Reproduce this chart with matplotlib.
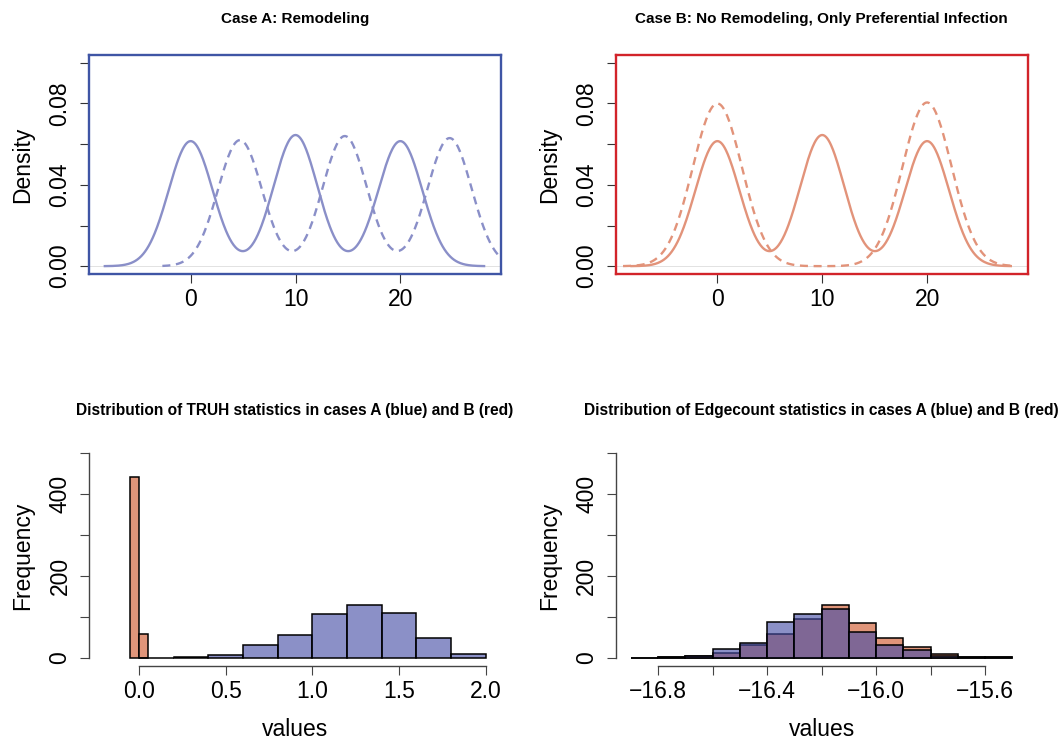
import numpy as np
import matplotlib.pyplot as plt

plt.rcParams['font.family'] = ['Liberation Sans', 'DejaVu Sans']

# ---- density curves: one normal bump per peak (centre, peak height, width) ----
a_solid_centers = [0, 10, 20]
a_solid_heights = [0.0615, 0.0645, 0.0615]
a_solid_sd = 2.1
a_solid_span = (-8.3, 28.1)

a_dash_centers = [4.7, 14.7, 24.7]
a_dash_heights = [0.0620, 0.0640, 0.0630]
a_dash_sd = 2.1
a_dash_span = (-2.7, 33.0)

b_solid_centers = [0, 10, 20]
b_solid_heights = [0.0615, 0.0645, 0.0615]
b_solid_sd = 2.1
b_solid_span = (-8.3, 28.1)

b_dash_centers = [0, 20]
b_dash_heights = [0.0800, 0.0805]
b_dash_sd = 2.35
b_dash_span = (-9.0, 28.2)

# ---- histograms ----
truh_red_edges = [-0.05, 0.0, 0.05]
truh_red_counts = [441, 59]
truh_blue_edges = [0.0, 0.2, 0.4, 0.6, 0.8, 1.0, 1.2, 1.4, 1.6, 1.8, 2.0]
truh_blue_counts = [0, 2, 7, 32, 55, 108, 128, 110, 48, 10]

edge_edges = [-16.9, -16.8, -16.7, -16.6, -16.5, -16.4, -16.3, -16.2,
              -16.1, -16.0, -15.9, -15.8, -15.7, -15.6, -15.5]
edge_blue_counts = [0, 1, 5, 21, 37, 87, 108, 119, 62, 31, 20, 5, 3, 1]
edge_red_counts = [0, 1, 5, 11, 30, 58, 95, 128, 84, 49, 26, 9, 3, 1]

BLUE_LINE = '#8a8fc8'
RED_LINE = '#e2937a'
BLUE_FILL = (0.267, 0.298, 0.651, 0.62)
RED_FILL = '#e0957a'
TICK_FS = 16.5


def bumps(centers, heights, sd, span):
    x = np.linspace(span[0], span[1], 600)
    y = np.zeros_like(x)
    for c, h in zip(centers, heights):
        y += h * np.exp(-(x - c) ** 2 / (2 * sd ** 2))
    return x, y


def density_panel(ax, frame_col, title, solid, dashed, col):
    x, y = bumps(*solid)
    ax.plot(x, y, color=col, lw=1.7, solid_capstyle='butt')
    x, y = bumps(*dashed)
    ax.plot(x, y, color=col, lw=1.7, dashes=(3.4, 2.4))
    ax.axhline(0, color='#dddddd', lw=0.6, zorder=0)
    ax.set_xlim(-9.7, 29.6)
    ax.set_ylim(-0.004, 0.104)
    for s in ax.spines.values():
        s.set_color(frame_col)
        s.set_linewidth(1.7)
    ax.set_xticks([0, 10, 20])
    ax.set_yticks([0, 0.02, 0.04, 0.06, 0.08, 0.10],
                  ['0.00', '', '0.04', '', '0.08', ''], rotation=90, va='center')
    ax.tick_params(length=6.5, width=0.8, color='#333333', labelsize=TICK_FS)
    ax.tick_params(axis='x', pad=3.5)
    ax.tick_params(axis='y', pad=6)
    ax.set_ylabel('Density', fontsize=TICK_FS)
    ax.yaxis.set_label_coords(-0.133, 0.5)
    ax.set_title(title, fontsize=11, fontweight='bold', pad=23)


def hist_panel(ax, title):
    for s in ['top', 'right']:
        ax.spines[s].set_visible(False)
    for s in ['left', 'bottom']:
        ax.spines[s].set_color('#444444')
        ax.spines[s].set_linewidth(1.0)
    ax.set_ylim(-20, 520)
    ax.set_yticks([0, 100, 200, 300, 400, 500],
                  ['0', '', '200', '', '400', ''], rotation=90, va='center')
    ax.spines['left'].set_bounds(0, 500)
    ax.tick_params(length=6.5, width=0.8, color='#444444', labelsize=TICK_FS)
    ax.tick_params(axis='x', pad=3.5)
    ax.tick_params(axis='y', pad=6)
    ax.set_ylabel('Frequency', fontsize=TICK_FS)
    ax.yaxis.set_label_coords(-0.133, 0.5)
    ax.set_xlabel('values', fontsize=TICK_FS)
    ax.xaxis.set_label_coords(0.5, -0.235)
    ax.set_title(title, fontsize=11.2, fontweight='bold', pad=22)


def bars(ax, edges, counts, face):
    left = np.array(edges[:-1])
    width = np.diff(edges)
    ax.bar(left, counts, width=width, align='edge', facecolor=face,
           edgecolor='black', linewidth=1.1)


fig = plt.figure(figsize=(10.63, 7.40), dpi=100)

ax1 = fig.add_axes([0.0837, 0.6293, 0.3876, 0.2968])
density_panel(ax1, '#3f55a5', 'Case A: Remodeling',
              (a_solid_centers, a_solid_heights, a_solid_sd, a_solid_span),
              (a_dash_centers, a_dash_heights, a_dash_sd, a_dash_span), BLUE_LINE)

ax2 = fig.add_axes([0.5792, 0.6293, 0.3876, 0.2968])
density_panel(ax2, '#d2232a', 'Case B: No Remodeling, Only Preferential Infection',
              (b_solid_centers, b_solid_heights, b_solid_sd, b_solid_span),
              (b_dash_centers, b_dash_heights, b_dash_sd, b_dash_span), RED_LINE)

# TRUH statistic
ax3 = fig.add_axes([0.0837, 0.1001, 0.3876, 0.2984])
bars(ax3, truh_red_edges, truh_red_counts, RED_FILL)
bars(ax3, truh_blue_edges, truh_blue_counts, BLUE_FILL)
ax3.set_xlim(-0.288, 2.088)
ax3.set_xticks([0.0, 0.5, 1.0, 1.5, 2.0], ['0.0', '0.5', '1.0', '1.5', '2.0'])
ax3.spines['bottom'].set_bounds(0.0, 2.0)
hist_panel(ax3, 'Distribution of TRUH statistics in cases A (blue) and B (red)')

# Edgecount statistic
ax4 = fig.add_axes([0.5792, 0.1001, 0.3876, 0.2984])
bars(ax4, edge_edges, edge_red_counts, RED_FILL)
bars(ax4, edge_edges, edge_blue_counts, BLUE_FILL)
ax4.set_xlim(-16.956, -15.444)
ax4.set_xticks([-16.8, -16.6, -16.4, -16.2, -16.0, -15.8, -15.6],
               ['\u221216.8', '', '\u221216.4', '', '\u221216.0', '', '\u221215.6'])
ax4.spines['bottom'].set_bounds(-16.8, -15.6)
hist_panel(ax4, 'Distribution of Edgecount statistics in cases A (blue) and B (red)')

fig.savefig('out.png', dpi=100)
